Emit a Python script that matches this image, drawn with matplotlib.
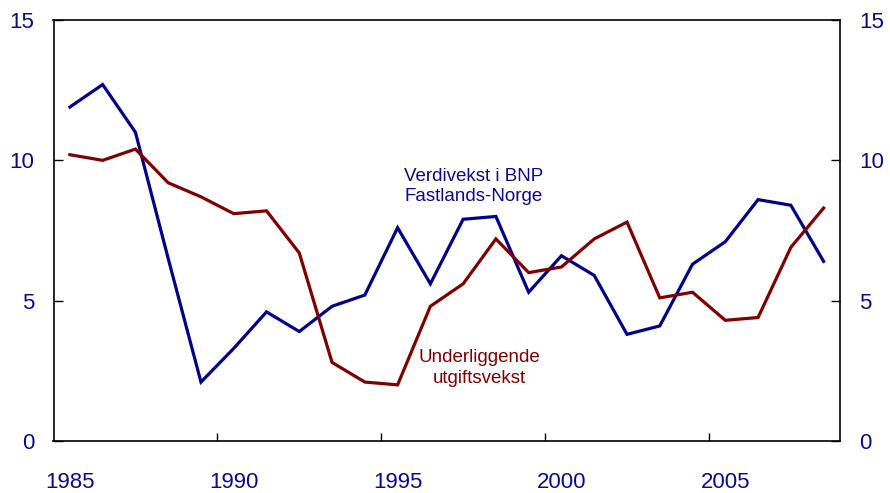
import matplotlib
matplotlib.use("Agg")
import matplotlib.pyplot as plt
import numpy as np

years = list(range(1985, 2009))
bnp = [11.9, 12.7, 11.0, 6.5, 2.1, 3.3, 4.6, 3.9, 4.8, 5.2, 7.6, 5.6,
       7.9, 8.0, 5.3, 6.6, 5.9, 3.8, 4.1, 6.3, 7.1, 8.6, 8.4, 6.4]
utgift = [10.2, 10.0, 10.4, 9.2, 8.7, 8.1, 8.2, 6.7, 2.8, 2.1, 2.0, 4.8,
          5.6, 7.2, 6.0, 6.2, 7.2, 7.8, 5.1, 5.3, 4.3, 4.4, 6.9, 8.3]
xtick_labels = ["1985", "1990", "1995", "2000", "2005"]
yticks = [0, 5, 10, 15]

plt.rcParams['font.family'] = ['Liberation Sans', 'DejaVu Sans']
navy = '#0a0a8c'
blue = '#00008b'
red = '#800000'

fig = plt.figure(figsize=(8.9, 4.93), dpi=100)
ax = fig.add_axes([53.5/890, (493-441)/493, (840-53.5)/890, (441-20)/493])

x = np.array(years) + 0.5
ax.plot(x, bnp, color=blue, lw=2.3, solid_joinstyle='miter')
ax.plot(x, utgift, color=red, lw=2.3, solid_joinstyle='miter')

ax.set_xlim(1985, 2009)
ax.set_ylim(0, 15)

ax.set_xticks([1990, 1995, 2000, 2005])
ax.set_xticklabels([])
ax.set_xticks([int(l) + 0.5 for l in xtick_labels], minor=True)
ax.set_xticklabels(xtick_labels, minor=True)
ax.tick_params(axis='x', which='major', direction='in', length=6, width=1, colors='black')
ax.tick_params(axis='x', which='minor', length=0, pad=22, labelsize=16, labelcolor=navy)

ax.set_yticks(yticks)
ax.set_yticklabels([str(v) for v in yticks])
ax.tick_params(axis='y', which='both', direction='in', length=6.5, width=1, colors='black',
               labelsize=16, labelcolor=navy, pad=14, left=True, right=True,
               labelleft=True, labelright=True)

for s in ax.spines.values():
    s.set_linewidth(1.2)
    s.set_color('black')

ax.text(1997.82, 9.08, "Verdivekst i BNP\nFastlands-Norge", color=navy, fontsize=13.5,
        ha='center', va='center', linespacing=1.25)
ax.text(1998.0, 2.6, "Underliggende\nutgiftsvekst", color=red, fontsize=13.5,
        ha='center', va='center', linespacing=1.25)

fig.savefig("out.png", dpi=100)
